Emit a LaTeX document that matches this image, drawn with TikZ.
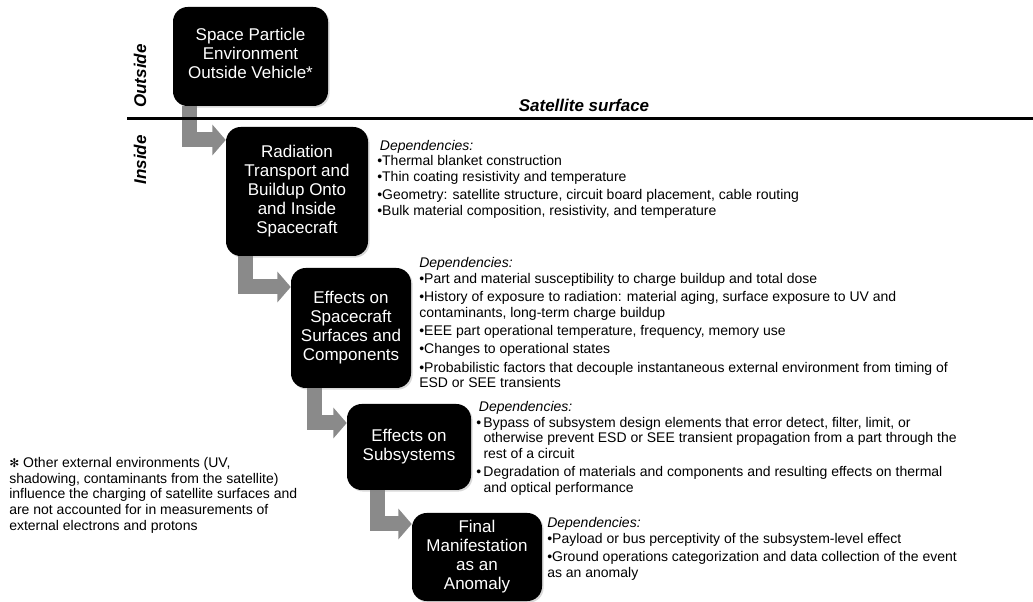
\documentclass[tikz,border=0pt]{standalone}
\usepackage{fontspec}
\setmainfont{Liberation Sans}
\newfontfamily\symfont{DejaVu Sans}
\usetikzlibrary{arrows.meta,shadows,backgrounds}
\definecolor{flowgray}{RGB}{138,138,138}
\begin{document}
\begin{tikzpicture}[x=0.75pt,y=-0.75pt,
  stage/.style={fill=black, rounded corners=11pt, text=white, align=center,
    inner sep=0pt, font=\fontsize{12.75}{14.25}\selectfont,
    drop shadow={shadow xshift=1.2pt, shadow yshift=-1.2pt, opacity=0.3}},
  flow/.style={draw=flowgray, line width=11.25pt,
    -{Triangle[length=10pt, width=22.5pt]}},
  deps/.style={anchor=north west, inner sep=0pt, align=left,
    font=\fontsize{10.5}{11.7}\selectfont},
  side/.style={inner sep=0pt, font=\fontsize{12.75}{14}\selectfont\bfseries\itshape},
]
\useasboundingbox (0,0) rectangle (1033,602);

% stages of the chain
\node[stage, minimum width=116.25pt, minimum height=74.25pt] (b1) at (250.5,56.5)
  {Space Particle\\Environment\\Outside Vehicle*\\[-9pt]\mbox{}};
\node[stage, minimum width=106.5pt, minimum height=96.75pt] (b2) at (297,191.5)
  {Radiation\\Transport and\\Buildup Onto\\and Inside\\Spacecraft};
\node[stage, minimum width=90pt, minimum height=90pt] (b3) at (351,328)
  {Effects on\\Spacecraft\\Surfaces and\\Components};
\node[stage, minimum width=93pt, minimum height=64.5pt] (b4) at (409,447)
  {Effects on\\Subsystems};
\node[stage, minimum width=97.5pt, minimum height=66pt] (b5) at (477,557)
  {Final\\Manifestation\\as an\\Anomaly};

% elbows of the connecting arrows
\coordinate (e1) at (189.5,140);
\coordinate (e2) at (245,287);
\coordinate (e3) at (314.5,423);
\coordinate (e4) at (377,524);

\begin{pgfonlayer}{background}
\draw[flow] (b1.south -| e1) |- (b2.west |- e1);
\draw[flow] (b2.south -| e2) |- (b3.west |- e2);
\draw[flow] (b3.south -| e3) |- (b4.west |- e3);
\draw[flow] (b4.south -| e4) |- (b5.west |- e4);
\end{pgfonlayer}

% satellite surface boundary
\coordinate (surfL) at (127,119);
\coordinate (surfR) at (1033,119);
\draw[line width=2.25pt] (surfL) -- (surfR);
\node[side] (surf) at (584,105) {Satellite surface};
\node[side, rotate=90] (outside) at (140,76) {Outside};
\node[side, rotate=90] (inside) at (140,160) {Inside};

% dependency lists
\node[deps] (d2) at (377,139.1)
  {\strut\hspace{2pt}\textit{Dependencies:}\\
   •Thermal blanket construction\\
   •Thin coating resistivity and temperature\\[2pt]
   •Geometry: satellite structure, circuit board placement, cable routing\\
   •Bulk material composition, resistivity, and temperature};
\node[deps] (d3) at (419,256.6)
  {\strut\textit{Dependencies:}\\
   •Part and material susceptibility to charge buildup and total dose\\[2pt]
   •History of exposure to radiation: material aging, surface exposure to UV and\\
   contaminants, long-term charge buildup\\[2pt]
   •EEE part operational temperature, frequency, memory use\\[2pt]
   •Changes to operational states\\[2pt]
   •Probabilistic factors that decouple instantaneous external environment from timing of\\
   ESD or SEE transients};
\node[deps] (d4) at (476,400.6)
  {\strut\hspace{2pt}\textit{Dependencies:}\\
   •\,Bypass of subsystem design elements that error detect, filter, limit, or\\
   \phantom{•\,}otherwise prevent ESD or SEE transient propagation from a part through the\\
   \phantom{•\,}rest of a circuit\\[2pt]
   •\,Degradation of materials and components and resulting effects on thermal\\
   \phantom{•\,}and optical performance};
\node[deps] (d5) at (547,516.6)
  {\strut\textit{Dependencies:}\\
   •Payload or bus perceptivity of the subsystem-level effect\\[2pt]
   •Ground operations categorization and data collection of the event\\
   as an anomaly};

% footnote
\node[deps] (note) at (9,456.6)
  {\strut{\symfont\fontsize{9}{11.7}\selectfont ✻} Other external environments (UV,\\
   shadowing, contaminants from the satellite)\\
   influence the charging of satellite surfaces and\\
   are not accounted for in measurements of\\
   external electrons and protons};
\end{tikzpicture}
\end{document}
